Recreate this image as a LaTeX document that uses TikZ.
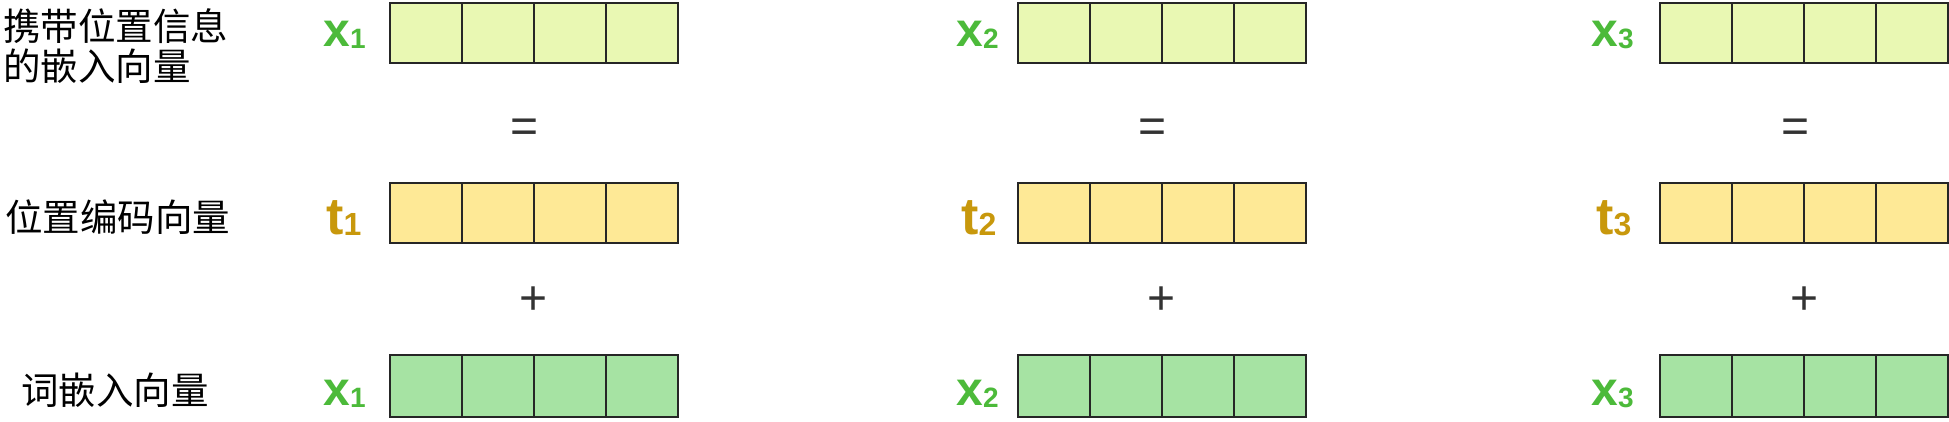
\documentclass[tikz,border=0pt]{standalone}
\usepackage{fontspec}
\setmainfont{Liberation Sans}
\newfontfamily\cjk{Noto Sans CJK SC}
\definecolor{rowA}{HTML}{E9F8B3}
\definecolor{rowB}{HTML}{FEE996}
\definecolor{rowC}{HTML}{A6E3A3}
\definecolor{lgreen}{HTML}{4CBA3A}
\definecolor{lgold}{HTML}{C8980C}
\definecolor{symgray}{HTML}{333333}
\newcommand\xsym[2]{{\fontsize{24}{24}\selectfont\bfseries #1}{\fontsize{14}{14}\selectfont\bfseries\raisebox{-1pt}{#2}}}
\newcommand\tsym[2]{{\fontsize{26}{26}\selectfont\bfseries #1}{\fontsize{16}{16}\selectfont\bfseries\raisebox{-0.5pt}{#2}}}
\begin{document}
\begin{tikzpicture}[x=0.5pt,y=-0.5pt,
  cell/.style={draw=black!85, line width=1pt, minimum width=36pt, minimum height=30pt, inner sep=0pt, outer sep=0pt},
  lab/.style={font=\cjk\fontsize{18.75}{20}\selectfont, inner sep=0pt, anchor=west, align=left},
  vlab/.style={inner sep=0pt, anchor=base west},
  sym/.style={font=\fontsize{24}{24}\selectfont, text=symgray, inner sep=0pt}]
\useasboundingbox (0,0) rectangle (1949,422);
\node[lab] (l1) at (3,46) {携带位置信息\\的嵌入向量};
\node[lab] (l2) at (5,217) {位置编码向量};
\node[lab] (l3) at (21,390) {词嵌入向量};
\foreach \c/\X/\xl/\tl in {1/390/323/326, 2/1018/956/961, 3/1660/1591/1596} {
  \foreach \k in {0,1,2,3} {
    \node[cell, fill=rowA] (p\c\k) at ({\X+36+72*\k},33.5) {};
    \node[cell, fill=rowB] (t\c\k) at ({\X+36+72*\k},213) {};
    \node[cell, fill=rowC, minimum height=31pt] (w\c\k) at ({\X+36+72*\k},386) {};
  }
  \node[vlab, text=lgreen] (px\c) at (\xl,47) {\xsym{x}{\c}};
  \node[vlab, text=lgold] (tx\c) at (\tl,235) {\tsym{t}{\c}};
  \node[vlab, text=lgreen] (wx\c) at (\xl,405) {\xsym{x}{\c}};
  \node[sym] (eq\c) at ({\X+135},131) {=};
  \node[sym] (pl\c) at ({\X+144},301) {+};
}
\end{tikzpicture}
\end{document}
